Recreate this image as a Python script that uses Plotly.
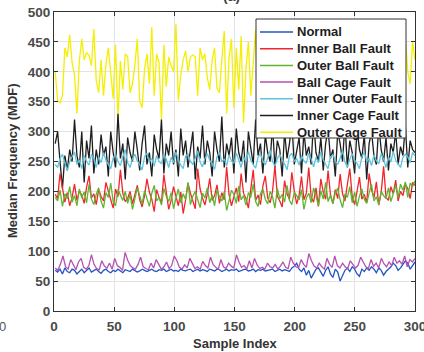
import numpy as np
import plotly.graph_objects as go

normal = [68,65,70,62,72,66,64,70,68,62,66,70,64,68,72,65,67,70,66,63,68,70,66,64,68,66,70,67,64,69,68,66,70,68,65,67,70,68,66,68,70,67,66,69,68,70,66,68,70,67,68,66,70,68,67,69,70,66,68,70,67,69,68,66,70,68,67,70,69,66,68,70,67,69,68,70,66,68,69,70,67,68,70,66,69,68,70,67,68,69,70,66,68,70,67,69,68,66,72,75,80,70,66,72,60,68,55,62,70,72,64,58,68,74,62,56,70,65,50,60,68,72,66,74,70,62,58,70,66,72,68,74,70,64,72,68,60,66,70,74,80,76,68,72,78,84,80,70,76,82]
inner_ball = [195,188,230,205,182,198,176,190,212,185,201,194,180,207,226,189,196,178,203,192,184,215,198,186,172,204,191,236,197,183,
              188,200,179,195,210,186,174,193,221,199,187,166,203,190,181,228,194,170,185,208,192,176,199,163,186,214,197,183,171,238,
              204,189,177,196,222,185,193,211,180,198,186,241,194,176,190,206,183,230,197,188,172,202,236,185,194,178,209,226,189,181,
              200,243,192,184,174,218,196,187,232,201,179,193,225,186,197,240,190,182,206,175,221,199,187,235,194,180,203,188,229,196,
              184,212,238,191,178,200,224,187,195,181,230,203,189,216,177,198,242,190,185,208,196,219,184,200,193,212,205,188,215,210]
outer_ball = [190,184,202,175,196,188,208,182,193,176,204,189,199,181,212,187,178,195,206,184,172,198,190,214,183,176,203,193,185,200,
              180,195,170,188,206,193,179,201,187,175,197,210,184,190,177,205,192,183,198,171,189,204,181,196,186,215,178,192,200,185,
              173,197,189,206,181,194,176,203,191,184,199,168,188,202,195,180,209,186,193,177,198,190,212,183,175,196,204,187,179,200,
              191,172,205,188,195,182,210,185,178,199,193,186,203,170,189,197,181,206,192,176,201,187,215,183,194,179,198,205,186,173,
              196,190,208,181,199,175,192,204,187,180,197,212,184,191,178,200,193,188,206,183,196,210,190,212,202,216,190,214,208,218]
ball_cage = [72,68,78,92,74,70,86,76,69,82,88,73,70,76,94,78,71,69,84,75,72,80,70,88,76,73,68,98,85,76,
             72,70,78,90,74,71,69,80,72,86,78,70,74,82,71,76,92,84,73,70,77,72,88,79,71,74,70,83,76,72,
             90,78,73,70,86,74,71,80,75,72,94,82,73,76,70,84,72,88,77,71,73,70,80,74,72,78,70,75,82,73,
             71,90,80,74,72,86,78,73,96,84,75,72,80,74,70,88,78,73,92,76,72,80,74,71,84,78,72,76,90,82,
             74,71,86,75,80,72,88,79,74,82,76,90,80,84,78,92,74,86,82,88]
inner_outer = [245,240,255,262,248,235,250,258,266,245,252,238,260,250,244,262,255,240,258,248,265,252,246,238,256,262,250,243,258,270,248,240,255,262,251,245,236,258,264,249,255,242,260,250,246,263,254,240,257,248,266,252,244,238,259,262,250,245,256,268,249,241,255,263,252,246,237,258,265,250,254,243,261,251,247,264,253,240,258,249,267,252,245,239,257,263,251,244,256,269,250,242,255,262,252,246,236,259,264,250,255,244,260,251,247,264,254,241,257,248,266,253,245,238,258,262,251,245,256,268,249,241,254,263,252,247,238,258,266,250,255,243,261,251,246,263,254,240,258,249,267,252,246,240,257,262,258,248,265,260]
inner_cage = [280,300,250,205,260,235,270,250,320,260,240,300,215,285,255,310,230,270,245,295,260,275,225,300,265,240,330,255,280,220,290,265,250,300,270,235,280,310,245,265,225,295,270,255,320,230,280,260,300,245,270,225,305,260,285,240,270,300,220,275,255,310,245,285,265,225,300,270,250,325,240,280,260,290,230,305,265,250,285,215,300,270,245,320,260,280,230,295,265,250,310,240,285,270,225,300,255,280,315,245,270,290,230,300,260,275,245,320,265,250,290,235,280,305,255,270,225,300,280,250,315,240,285,265,230,305,270,255,295,220,280,300,260,245,310,270,250,290,235,280,265,300,245,275,260,310,240,285,270,265]
outer_cage = [400,352,348,360,440,425,462,415,395,330,418,455,420,432,428,410,472,385,365,420,360,412,440,395,355,445,320,418,370,430,425,365,380,412,455,350,340,405,430,380,475,360,430,415,320,445,375,425,410,400,480,352,395,420,435,400,425,428,425,360,440,420,430,390,370,420,440,372,365,420,468,330,425,455,340,440,370,460,315,405,450,360,420,470,350,430,455,475,400,455,418,440,390,470,330,445,420,455,410,380,430,470,345,420,455,380,430,340,465,410,395,445,360,420,470,340,400,450,430,375,460,420,330,440,415,385,455,440,350,425,470,400,430,380,445,360,420,465,410,390,440,470,350,430,415,460,400,380,450,420]

names = ["Normal", "Inner Ball Fault", "Outer Ball Fault", "Ball Cage Fault",
         "Inner Outer Fault", "Inner Cage Fault", "Outer Cage Fault"]
series = [normal, inner_ball, outer_ball, ball_cage, inner_outer, inner_cage, outer_cage]
colors = ["#2353c4", "#f0262b", "#5fb52f", "#b552b0", "#5ec4de", "#1e1e1e", "#f5ef00"]
draw_order = [6, 5, 4, 1, 2, 0, 3]

FONT = "Liberation Sans, Arial"
fig = go.Figure()
for i in draw_order:
    y = series[i]
    x = np.linspace(1, 300, len(y))
    fig.add_trace(go.Scatter(x=x, y=y, mode="lines", name=names[i], showlegend=False,
                             line=dict(color=colors[i], width=1.3)))

# layout constants (pixels)
W, H = 424, 352
ML, MR, MT, MB = 54, 9, 12, 41
PW, PH = W - ML - MR, H - MT - MB
def px(xp):
    return (xp - ML) / PW
def py(yp):
    return (H - MB - yp) / PH

tickfont = dict(family=FONT, size=13.5, color="#4a4a4a", weight="bold")
axis_common = dict(showgrid=True, gridcolor="#e3e3e3", gridwidth=1, zeroline=False,
                   showline=True, linecolor="#333333", linewidth=1, mirror="ticks",
                   ticks="inside", ticklen=4, tickcolor="#333333", tickfont=tickfont,
                   automargin=False, ticklabeloverflow="allow")

shapes = [dict(type="rect", xref="paper", yref="paper", x0=px(256), x1=px(406), y0=py(138), y1=py(19),
               line=dict(color="#333333", width=1), fillcolor="white", layer="above")]
annotations = []
for i, nm in enumerate(names):
    yc = 32 + 16.7 * i
    shapes.append(dict(type="line", xref="paper", yref="paper", x0=px(260), x1=px(293),
                       y0=py(yc), y1=py(yc), line=dict(color=colors[i], width=1.5), layer="above"))
    annotations.append(dict(text=nm, xref="paper", yref="paper", x=px(295), y=py(yc),
                            xanchor="left", yanchor="middle", showarrow=False,
                            font=dict(family=FONT, size=13, color="#1e1e1e", weight="bold")))

annotations += [
    dict(text="(a)", xref="paper", yref="paper", x=px(231), y=py(-3.5), xanchor="center", yanchor="middle",
         showarrow=False, font=dict(family=FONT, size=14, color="#444444", weight="bold")),
    dict(text="0", xref="paper", yref="paper", x=px(3), y=py(326), xanchor="center", yanchor="middle",
         showarrow=False, font=dict(family=FONT, size=13, color="#555555")),
    dict(text="Sample Index", xref="paper", yref="paper", x=px(235), y=py(343), xanchor="center",
         yanchor="middle", showarrow=False, font=dict(family=FONT, size=13, color="#333333", weight="bold")),
    dict(text="Median Frequency (MDF)", xref="paper", yref="paper", x=px(12), y=py(161), textangle=-90,
         xanchor="center", yanchor="middle", showarrow=False,
         font=dict(family=FONT, size=13, color="#333333", weight="bold")),
]

fig.update_layout(
    width=W, height=H,
    margin=dict(l=ML, r=MR, t=MT, b=MB),
    paper_bgcolor="white", plot_bgcolor="white",
    showlegend=False,
    xaxis=dict(range=[0, 300], tickvals=[0, 50, 100, 150, 200, 250, 300], ticklabelstandoff=3,
               **axis_common),
    yaxis=dict(range=[0, 500], tickvals=[0, 50, 100, 150, 200, 250, 300, 350, 400, 450, 500],
               **axis_common),
    shapes=shapes,
    annotations=annotations,
)

fig.write_html("out.html", post_script="document.body.style.margin='0px';",
               config={"displayModeBar": False})
